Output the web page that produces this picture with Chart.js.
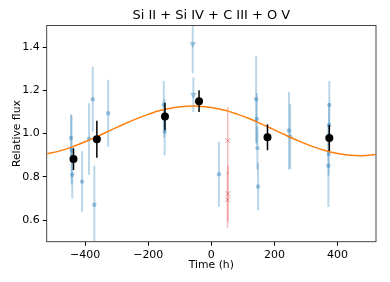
<!DOCTYPE html>
<html>
<head>
<meta charset="utf-8">
<script src="https://cdn.jsdelivr.net/npm/chart.js@4.4.1/dist/chart.umd.min.js"></script>
<style>
  html, body { margin: 0; padding: 0; background: #fff; }
  #wrap { width: 390px; height: 282px; }
</style>
</head>
<body>
<div id="wrap"><canvas id="fluxChart" width="390" height="282"></canvas></div>
<script>
const titleText = "Si II + Si IV + C III + O V";
const xTicks = [-400, -200, 0, 200, 400];
const yTicks = [0.6, 0.8, 1.0, 1.2, 1.4];

// single exposures (light blue)
const obsTimes = [-445, -443, -441, -410, -388, -376, -371, -327, -151, -149, -148, 24, 142, 144, 146, 148, 246, 250, 374, 373, 372, 371];
const obsFlux  = [0.98, 0.925, 0.81, 0.778, 0.975, 1.159, 0.671, 1.094, 1.133, 1.07, 1.01, 0.812, 1.159, 1.068, 0.933, 0.755, 1.014, 0.986, 1.133, 1.04, 0.906, 0.851];
const obsErr   = [0.11, 0.16, 0.11, 0.14, 0.165, 0.15, 0.18, 0.155, 0.11, 0.09, 0.11, 0.15, 0.2, 0.12, 0.1, 0.11, 0.18, 0.15, 0.11, 0.1, 0.1, 0.19];

// upper limits (downward triangles)
const limTimes = [-59, -57];
const limFlux  = [1.414, 1.18];
const limErr   = [0.135, 0.08];

// flagged exposures (red crosses)
const flagTimes = [52, 53, 51];
const flagFlux  = [0.968, 0.722, 0.694];
const flagErr   = [0.155, 0.13, 0.13];

// binned points (black)
const binTimes = [-437, -363, -147, -39, 178, 374];
const binFlux  = [0.882, 0.974, 1.079, 1.150, 0.983, 0.980];
const binErr   = [0.05, 0.086, 0.064, 0.05, 0.06, 0.06];

// fitted model (orange)
const modelTimes = [-520, -480, -440, -400, -360, -320, -280, -240, -200, -160, -120, -80, -40, 0, 40, 80, 120, 160, 200, 240, 280, 320, 360, 400, 440, 480, 520];
const modelFlux  = [0.907, 0.920, 0.939, 0.962, 0.988, 1.015, 1.042, 1.067, 1.089, 1.108, 1.120, 1.127, 1.127, 1.121, 1.109, 1.091, 1.070, 1.044, 1.017, 0.990, 0.964, 0.941, 0.922, 0.908, 0.900, 0.898, 0.903];

const FONT = "DejaVu Sans";

function toPoints(xs, ys) {
  return xs.map((x, i) => ({ x, y: ys[i] }));
}

const errorBarPlugin = {
  id: "errorBarPlugin",
  beforeDatasetDraw(chart, args) {
    const dataset = chart.data.datasets[args.index];
    if (!dataset.yErr) return;
    const { ctx, chartArea, scales } = chart;
    ctx.save();
    ctx.beginPath();
    ctx.rect(chartArea.left, chartArea.top, chartArea.right - chartArea.left, chartArea.bottom - chartArea.top);
    ctx.clip();
    ctx.strokeStyle = dataset.errColor;
    ctx.lineWidth = dataset.errWidth;
    args.meta.data.forEach((point, index) => {
      const value = dataset.data[index].y;
      const err = dataset.yErr[index];
      ctx.beginPath();
      ctx.moveTo(point.x, scales.y.getPixelForValue(value + err));
      ctx.lineTo(point.x, scales.y.getPixelForValue(value - err));
      ctx.stroke();
    });
    ctx.restore();
  }
};

const framePlugin = {
  id: "framePlugin",
  afterDraw(chart) {
    const { ctx, chartArea } = chart;
    ctx.save();
    ctx.strokeStyle = "#333";
    ctx.lineWidth = 0.9;
    ctx.strokeRect(chartArea.left, chartArea.top, chartArea.right - chartArea.left, chartArea.bottom - chartArea.top);
    ctx.fillStyle = "#000";
    ctx.font = `13px ${FONT}`;
    ctx.textAlign = "center";
    ctx.textBaseline = "alphabetic";
    ctx.fillText(titleText, (chartArea.left + chartArea.right) / 2, chartArea.top - 7);
    ctx.restore();
  }
};

new Chart(document.getElementById("fluxChart"), {
  data: {
    datasets: [
      {
        type: "scatter",
        label: "binned",
        data: toPoints(binTimes, binFlux),
        yErr: binErr,
        errColor: "#000",
        errWidth: 1.5,
        backgroundColor: "#000",
        borderWidth: 0,
        pointRadius: 4,
        order: 0
      },
      {
        type: "line",
        label: "model",
        data: toPoints(modelTimes, modelFlux),
        borderColor: "#ff7f0e",
        borderWidth: 1.5,
        pointRadius: 0,
        tension: 0.4,
        fill: false,
        order: 1
      },
      {
        type: "scatter",
        label: "flagged",
        data: toPoints(flagTimes, flagFlux),
        yErr: flagErr,
        errColor: "rgba(214, 39, 40, 0.3)",
        errWidth: 1.5,
        pointStyle: "crossRot",
        borderColor: "rgba(214, 39, 40, 0.45)",
        borderWidth: 1,
        pointRadius: 3.5,
        order: 2
      },
      {
        type: "scatter",
        label: "limits",
        data: toPoints(limTimes, limFlux),
        yErr: limErr,
        errColor: "rgba(31, 119, 180, 0.3)",
        errWidth: 2,
        pointStyle: "triangle",
        rotation: 180,
        backgroundColor: "rgba(31, 119, 180, 0.35)",
        borderWidth: 0,
        pointRadius: 4,
        order: 3
      },
      {
        type: "scatter",
        label: "exposures",
        data: toPoints(obsTimes, obsFlux),
        yErr: obsErr,
        errColor: "rgba(31, 119, 180, 0.3)",
        errWidth: 2,
        backgroundColor: "rgba(31, 119, 180, 0.4)",
        borderWidth: 0,
        pointRadius: 2.2,
        order: 4
      }
    ]
  },
  options: {
    responsive: false,
    animation: false,
    layout: { padding: { top: 25.5, right: 14, bottom: 0, left: 0 } },
    plugins: {
      legend: { display: false },
      tooltip: { enabled: false }
    },
    scales: {
      x: {
        type: "linear",
        min: -522,
        max: 522,
        afterBuildTicks: (scale) => { scale.ticks = xTicks.map((value) => ({ value })); },
        afterFit: (scale) => { scale.height = 40.3; },
        grid: { drawOnChartArea: false, drawTicks: true, tickLength: 4, color: "#000" },
        border: { display: false },
        ticks: {
          padding: 3,
          color: "#000",
          font: { family: FONT, size: 11 },
          maxRotation: 0,
          callback: (value) => String(value).replace("-", "\u2212")
        },
        title: {
          display: true,
          text: "Time (h)",
          color: "#000",
          font: { family: FONT, size: 10.8 },
          padding: { top: 0, bottom: 10 }
        }
      },
      y: {
        type: "linear",
        min: 0.5,
        max: 1.5,
        afterBuildTicks: (scale) => { scale.ticks = yTicks.map((value) => ({ value })); },
        afterFit: (scale) => { scale.width = 46.7; },
        grid: { drawOnChartArea: false, drawTicks: true, tickLength: 4, color: "#000" },
        border: { display: false },
        ticks: {
          padding: 3,
          color: "#000",
          font: { family: FONT, size: 11 },
          callback: (value) => Number(value).toFixed(1)
        },
        title: {
          display: true,
          text: "Relative flux",
          color: "#000",
          font: { family: FONT, size: 10.8 },
          padding: { top: 11, bottom: 0 }
        }
      }
    }
  },
  plugins: [errorBarPlugin, framePlugin]
});
</script>
</body>
</html>
